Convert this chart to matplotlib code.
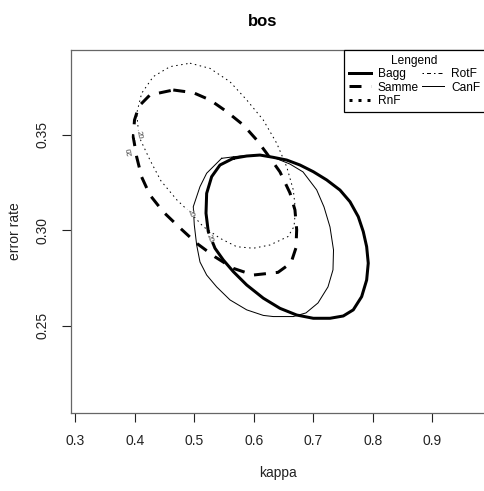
import numpy as np
import matplotlib
matplotlib.use("Agg")
import matplotlib.pyplot as plt
from matplotlib.lines import Line2D

plt.rcParams['font.family'] = ['Liberation Sans', 'DejaVu Sans']

# ---- data (contour points, kappa vs error rate) ----
bagg_x = [0.5655, 0.5881, 0.6104, 0.6328, 0.6553, 0.6776, 0.7000, 0.7225, 0.7449, 0.7617,
          0.7756, 0.7840, 0.7897, 0.7924, 0.7897, 0.7813, 0.7672, 0.7504, 0.7281, 0.7000,
          0.6721, 0.6440, 0.6160, 0.5881, 0.5655, 0.5487, 0.5348, 0.5235, 0.5197, 0.5208,
          0.5292, 0.5432]
bagg_y = [0.3376, 0.3388, 0.3393, 0.3381, 0.3367, 0.3341, 0.3306, 0.3263, 0.3210, 0.3149,
          0.3071, 0.2993, 0.2914, 0.2828, 0.2740, 0.2653, 0.2584, 0.2552, 0.2540, 0.2540,
          0.2557, 0.2592, 0.2645, 0.2714, 0.2784, 0.2845, 0.2906, 0.2993, 0.3089, 0.3193,
          0.3280, 0.3341]

canf_x = [0.5460, 0.5768, 0.6104, 0.6328, 0.6608, 0.6827, 0.7057, 0.7180, 0.7281, 0.7340,
          0.7331, 0.7247, 0.7079, 0.6877, 0.6664, 0.6328, 0.6160, 0.5881, 0.5600, 0.5376,
          0.5208, 0.5096, 0.5040, 0.5000, 0.4983, 0.5096, 0.5208]
canf_y = [0.3376, 0.3388, 0.3393, 0.3381, 0.3346, 0.3305, 0.3211, 0.3122, 0.3017, 0.2897,
          0.2793, 0.2704, 0.2620, 0.2568, 0.2549, 0.2549, 0.2555, 0.2584, 0.2636, 0.2704,
          0.2766, 0.2834, 0.2923, 0.3028, 0.3123, 0.3228, 0.3298]

samme_x = [0.4647, 0.4983, 0.5264, 0.5545, 0.5824, 0.6049, 0.6217, 0.6440, 0.6608, 0.6692,
           0.6721, 0.6709, 0.6625, 0.6407, 0.5992, 0.5655, 0.5348, 0.5040, 0.4760, 0.4479,
           0.4255, 0.4116, 0.4032, 0.3975, 0.3995, 0.4071, 0.4255]
samme_y = [0.3733, 0.3719, 0.3681, 0.3620, 0.3550, 0.3472, 0.3402, 0.3305, 0.3195, 0.3106,
           0.3002, 0.2908, 0.2829, 0.2780, 0.2766, 0.2801, 0.2861, 0.2932, 0.3012, 0.3096,
           0.3184, 0.3278, 0.3383, 0.3487, 0.3576, 0.3649, 0.3707]

rotf_x = [0.4928, 0.5264, 0.5600, 0.5881, 0.6160, 0.6385, 0.6553, 0.6664, 0.6701, 0.6676,
          0.6575, 0.6272, 0.5992, 0.5713, 0.5432, 0.5151, 0.4956, 0.4709, 0.4440, 0.4255,
          0.4071, 0.4032, 0.4116, 0.4311, 0.4592]
rotf_y = [0.3873, 0.3846, 0.3776, 0.3681, 0.3576, 0.3455, 0.3332, 0.3211, 0.3106, 0.3019,
          0.2967, 0.2923, 0.2906, 0.2914, 0.2958, 0.3019, 0.3085, 0.3158, 0.3258, 0.3367,
          0.3489, 0.3611, 0.3716, 0.3803, 0.3855]

label_x = [0.4059, 0.3919, 0.4928, 0.5252]
label_y = [0.3498, 0.3411, 0.3089, 0.2958]
label_rot = [-80, 100, -70, -70]
label_text = "20"

x_ticks = [0.3, 0.4, 0.5, 0.6, 0.7, 0.8, 0.9]
y_ticks = [0.25, 0.30, 0.35]
legend_names = ["Bagg", "Samme", "RnF", "RotF", "CanF"]


def closed(a):
    return np.append(a, a[0])


W, H = 484, 491
fig = plt.figure(figsize=(W / 100, H / 100), dpi=100)
ax = fig.add_axes([70.7 / W, 1 - 413 / H, (485 - 70.7) / W, (413 - 50) / H])

px = 0.72  # points per pixel at 100 dpi
ax.plot(closed(bagg_x), closed(bagg_y), color='black', lw=3 * px, solid_joinstyle='round', zorder=3)
ax.plot(closed(samme_x), closed(samme_y), color='black', lw=3 * px,
        linestyle=(0, (4, 3.3)), dash_capstyle='butt', zorder=3)
ax.plot(closed(rotf_x), closed(rotf_y), color='black', lw=1 * px,
        linestyle=(0, (1.5, 3.5)), zorder=3)
ax.plot(closed(canf_x), closed(canf_y), color='black', lw=1 * px, zorder=3)

for lx, ly, r in zip(label_x, label_y, label_rot):
    ax.text(lx, ly, label_text, rotation=r, fontsize=5.5, color='#444444',
            ha='center', va='center', zorder=4,
            bbox=dict(fc='white', ec='none', pad=0.3))

ax.set_xlim(0.2923, 0.9886)
ax.set_ylim(0.2045, 0.3942)
ax.set_xticks(x_ticks)
ax.set_xticklabels([f"{v:.1f}" for v in x_ticks])
ax.set_yticks(y_ticks)
ax.set_yticklabels([f"{v:.2f}" for v in y_ticks])
ax.tick_params(axis='both', length=6.2, width=0.8, color='#222222', labelsize=10,
               labelcolor='#222222', direction='out')
ax.tick_params(axis='x', pad=9)
ax.tick_params(axis='y', pad=9, labelrotation=90)
for lab in ax.get_yticklabels():
    lab.set_va('center')
for s in ax.spines.values():
    s.set_color('#666666')
    s.set_linewidth(0.9)

ax.set_xlabel("kappa", fontsize=10, color='#222222')
ax.set_ylabel("error rate", fontsize=10, color='#222222')
ax.xaxis.set_label_coords((278 - 70.7) / (485 - 70.7), (413 - 466) / 363)
ax.yaxis.set_label_coords((22 - 70.7) / (485 - 70.7), 0.5)
ax.set_title("bos", fontsize=12, fontweight='bold', x=(263 - 70.7) / (485 - 70.7), pad=17)

handles = [
    Line2D([], [], color='black', lw=3 * px),
    Line2D([], [], color='black', lw=3 * px, linestyle=(0, (4, 3.3))),
    Line2D([], [], color='black', lw=3 * px, linestyle=(0, (1, 2))),
    Line2D([], [], color='black', lw=1 * px, linestyle=(0, (1.5, 3, 4, 3))),
    Line2D([], [], color='black', lw=1 * px),
]
leg = ax.legend(handles, legend_names, title="Lengend", ncol=2, loc='upper right',
                bbox_to_anchor=(1, 1), borderaxespad=0, fontsize=8.6, title_fontsize=8.6,
                handlelength=1.8, handletextpad=0.6, columnspacing=0.3,
                labelspacing=0.12, borderpad=0.4, fancybox=False, framealpha=1)
leg.get_frame().set_edgecolor('black')
leg.get_frame().set_linewidth(0.9)
leg.set_zorder(5)

fig.savefig("out.png", dpi=100)
